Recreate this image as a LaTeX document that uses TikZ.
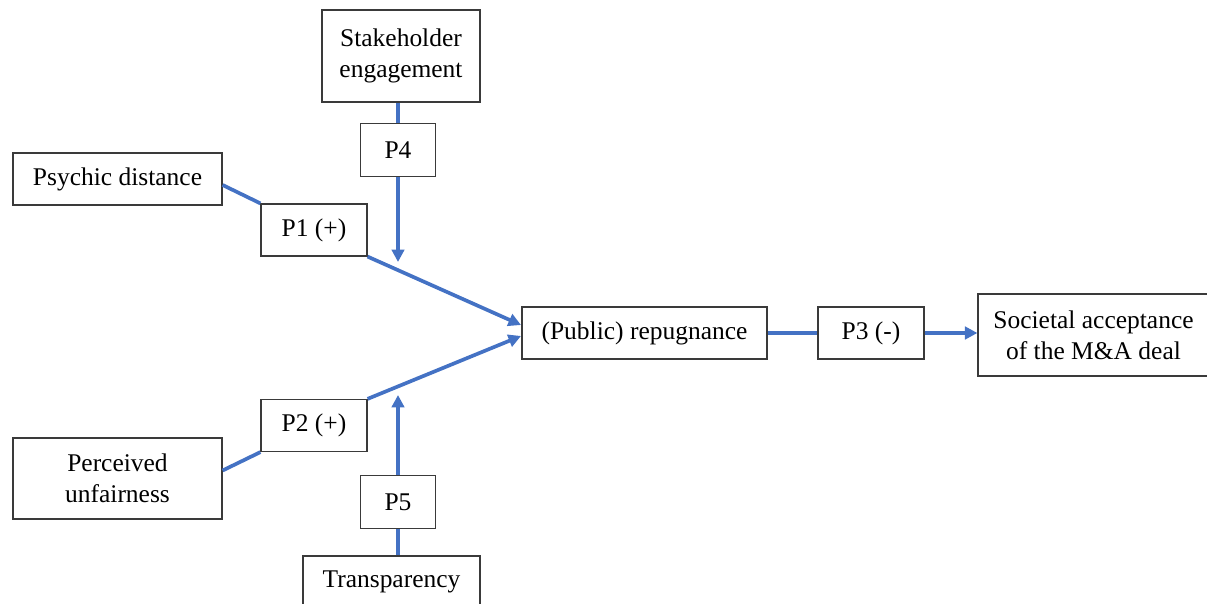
\documentclass[tikz,border=0pt]{standalone}
\usepackage{fontspec}
\setmainfont{Liberation Serif}
\usepackage{tikz}
\usetikzlibrary{
  arrows.meta,
  positioning,
  calc
}
\definecolor{linkblue}{HTML}{4472C4}
\definecolor{boxline}{HTML}{3A3A3A}

\begin{document}
\begin{tikzpicture}[
  x=0.02cm, y=-0.02cm,
  concept/.style={
    rectangle, draw=boxline, fill=white, line width=0.7pt,
    align=center, inner sep=0pt,
    font=\fontsize{14.5}{17.6}\selectfont
  },
  prop/.style={
    concept, minimum width=2.12cm, minimum height=1.04cm
  },
  modprop/.style={
    concept, minimum width=1.5cm, minimum height=1.05cm
  },
  link/.style={linkblue, line width=2.1pt},
  effect/.style={link, -{Triangle[length=2.5mm, width=2.5mm]}}
]
\useasboundingbox (0,0) rectangle (1207,604);

% CONSTRUCTS
\node[concept, minimum width=3.16cm, minimum height=1.84cm] (stake) at (401,56) {Stakeholder\\engagement};
\node[concept, minimum width=4.18cm, minimum height=1.04cm] (psych) at (117.5,179) {Psychic distance};
\node[concept, minimum width=4.18cm, minimum height=1.62cm] (unfair) at (117.5,478.5) {Perceived\\unfairness};
\node[concept, minimum width=4.9cm, minimum height=1.04cm] (repug) at (644.5,333) {(Public) repugnance};
\node[concept, minimum width=4.62cm, minimum height=1.64cm] (accept) at (1093.5,335) {Societal acceptance\\of the M\&A deal};
\node[concept, minimum width=3.54cm, minimum height=1.04cm] (transp) at (391.5,582) {Transparency};

% PROPOSITIONS
\node[modprop] (pfour) at (398,150) {P4};
\node[prop] (pone) at (314,230) {P1 (+)};
\node[prop] (ptwo) at (314,425.5) {P2 (+)};
\node[prop] (pthree) at (871,333) {P3 (-)};
\node[modprop] (pfive) at (398,502) {P5};

% arrow ends
\coordinate (inup) at (521,325);
\coordinate (indown) at (521,336);
\coordinate (modtop) at (398,262);
\coordinate (modbot) at (398,395);

% main paths
\draw[link] ($(psych.east)+(0,6)$) -- (pone.north west);
\draw[effect] (pone.south east) -- (inup);
\draw[link] ($(unfair.east)+(0,-8)$) -- (ptwo.south west);
\draw[effect] (ptwo.north east) -- (indown);
\draw[link] (repug.east) -- (pthree.west);
\draw[effect] (pthree.east) -- (accept.west |- pthree.east);

% moderators
\draw[link] (pfour.north |- stake.south) -- (pfour.north);
\draw[effect] (pfour.south) -- (modtop);
\draw[link] (pfive.south |- transp.north) -- (pfive.south);
\draw[effect] (pfive.north) -- (modbot);

\end{tikzpicture}
\end{document}
